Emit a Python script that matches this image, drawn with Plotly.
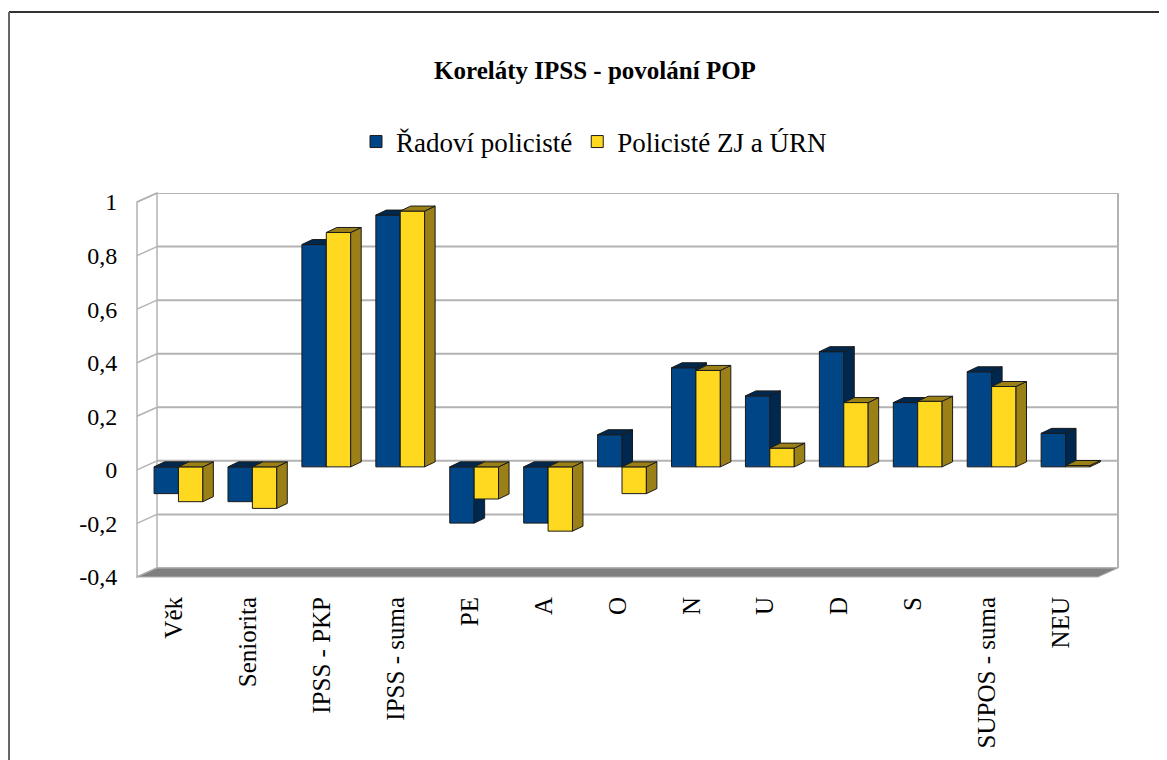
import plotly.graph_objects as go

# data
categories = ["Věk", "Seniorita", "IPSS - PKP", "IPSS - suma", "PE", "A", "O",
              "N", "U", "D", "S", "SUPOS - suma", "NEU"]
radovi = [-0.10, -0.13, 0.83, 0.94, -0.21, -0.21, 0.12, 0.37, 0.265, 0.43, 0.24, 0.355, 0.125]
zj_urn = [-0.13, -0.155, 0.875, 0.955, -0.12, -0.24, -0.10, 0.36, 0.07, 0.24, 0.245, 0.30, 0.005]
y_ticks = [-0.4, -0.2, 0, 0.2, 0.4, 0.6, 0.8, 1]
y_tick_labels = ["-0,4", "-0,2", "0", "0,2", "0,4", "0,6", "0,8", "1"]

W, H = 1167, 760
OFF = 8  # page margin around the plot div
FONT = "Liberation Serif"
BLUE, BLUE_DARK = "#004586", "#00284f"
YELLOW, YELLOW_DARK = "#ffd920", "#9a8016"
EDGE = "#1a1a1a"
GRID = "#b3b3b3"

# back wall of the pseudo-3D box, in screen pixels
WALL_L, WALL_R, WALL_T, WALL_B = 157, 1118, 193, 568
FLOOR_DX, FLOOR_DY = 20, 9       # depth of the floor / side wall
BAR_DX, BAR_DY = 15.5, 6         # bars' front plane relative to the wall
FACE_DX, FACE_DY = 10.5, 5       # depth of a bar
BAR_W = 0.33

n = len(categories)
x_unit = (WALL_R - WALL_L) / n
y_unit = (WALL_B - WALL_T) / (y_ticks[-1] - y_ticks[0])

# base (wall) axes cover the wall plus the floor / side wall in front of it
x_base = [-0.5 - FLOOR_DX / x_unit, n - 0.5]
y_base = [y_ticks[0] - FLOOR_DY / y_unit, y_ticks[-1]]


def shifted(rng, d):
    return [r + d for r in rng]


def px(x):
    return (x - OFF) / W


def py(y):
    return 1 - (y - OFF) / H


dx = FACE_DX / x_unit
dy = FACE_DY / y_unit


def faces(lefts, values):
    """Side and top faces of the bars as closed polygons."""
    sx, sy, tx, ty = [], [], [], []
    for x0, v in zip(lefts, values):
        x1 = x0 + BAR_W
        lo, hi = min(v, 0), max(v, 0)
        sx += [x1, x1, x1 + dx, x1 + dx, x1, None]
        sy += [lo, hi, hi + dy, lo + dy, lo, None]
        tx += [x0, x1, x1 + dx, x0 + dx, x0, None]
        ty += [hi, hi, hi + dy, hi + dy, hi, None]
    return sx, sy, tx, ty


def series(name, values, offset, color, dark, xa, ya):
    idx = list(range(n))
    sx, sy, tx, ty = faces([i + offset for i in idx], values)
    bar = go.Bar(
        x=idx, y=values, name=name, width=BAR_W, offset=offset,
        marker=dict(color=color, line=dict(color=EDGE, width=1)),
        xaxis=xa, yaxis=ya,
    )
    face_style = dict(fill="toself", fillcolor=dark, mode="lines",
                      line=dict(color=EDGE, width=1), showlegend=False,
                      hoverinfo="skip", xaxis=xa, yaxis=ya)
    return [bar, go.Scatter(x=sx, y=sy, **face_style), go.Scatter(x=tx, y=ty, **face_style)]


traces = [go.Scatter(x=[], y=[], showlegend=False, xaxis="x", yaxis="y")]
traces += series("Řadoví policisté", radovi, -BAR_W, BLUE, BLUE_DARK, "x2", "y2")
traces += series("Policisté ZJ a ÚRN", zj_urn, 0, YELLOW, YELLOW_DARK, "x3", "y3")
traces += [go.Scatter(x=[], y=[], showlegend=False, xaxis="x4", yaxis="y4")]

fig = go.Figure(data=traces)

shapes = [
    # outer frame
    dict(type="line", xref="paper", yref="paper", x0=px(9), x1=1.02, y0=py(12), y1=py(12),
         line=dict(color="#333333", width=2)),
    dict(type="line", xref="paper", yref="paper", x0=px(9), x1=px(9), y0=py(12), y1=-0.02,
         line=dict(color="#666666", width=2)),
    # left side wall
    dict(type="path", xref="paper", yref="paper", layer="below",
         path=f"M {px(WALL_L)} {py(WALL_T)} L {px(WALL_L - FLOOR_DX)} {py(WALL_T + FLOOR_DY)} "
              f"L {px(WALL_L - FLOOR_DX)} {py(WALL_B + FLOOR_DY)} L {px(WALL_L)} {py(WALL_B)} Z",
         fillcolor="white", line=dict(color=GRID, width=1.5)),
    # floor
    dict(type="path", xref="paper", yref="paper",
         path=f"M {px(WALL_L)} {py(WALL_B)} L {px(WALL_R)} {py(WALL_B)} "
              f"L {px(WALL_R - FLOOR_DX)} {py(WALL_B + FLOOR_DY)} "
              f"L {px(WALL_L - FLOOR_DX)} {py(WALL_B + FLOOR_DY)} Z",
         fillcolor="#808080", line=dict(color=GRID, width=1)),
    # back wall right edge
    dict(type="line", xref="paper", yref="paper", x0=px(WALL_R), x1=px(WALL_R),
         y0=py(WALL_T), y1=py(WALL_B), line=dict(color=GRID, width=2)),
]
for v in y_ticks:
    # gridline on the back wall and its continuation on the side wall
    shapes.append(dict(type="line", xref="paper", yref="y", layer="below",
                       x0=px(WALL_L), x1=px(WALL_R), y0=v, y1=v,
                       line=dict(color=GRID, width=2)))
    shapes.append(dict(type="line", xref="paper", yref="y", layer="below",
                       x0=px(WALL_L), x1=px(WALL_L - FLOOR_DX),
                       y0=v, y1=v - FLOOR_DY / y_unit,
                       line=dict(color=GRID, width=1.5)))

hidden = dict(showgrid=False, zeroline=False, showticklabels=False, ticks="",
              showline=False, automargin=False)
ghost_ticks = dict(ticks="outside", tickcolor="rgba(0,0,0,0)", showgrid=False,
                   zeroline=False, showline=False, automargin=False)

fig.update_layout(
    width=W,
    height=H,
    template="none",
    margin=dict(l=0, r=0, t=0, b=0),
    paper_bgcolor="white",
    plot_bgcolor="rgba(0,0,0,0)",
    font=dict(family=FONT, color="black", size=24),
    title=dict(text="<b>Koreláty IPSS - povolání POP</b>", x=px(595), y=py(70),
               xanchor="center", yanchor="middle", xref="paper", yref="paper",
               font=dict(family=FONT, size=25, color="black")),
    legend=dict(orientation="h", x=px(594), y=py(142), xanchor="center", yanchor="middle",
                font=dict(family=FONT, size=27), bgcolor="rgba(0,0,0,0)",
                traceorder="normal"),
    showlegend=True,
    shapes=shapes,
    xaxis=dict(domain=[px(WALL_L - FLOOR_DX), px(WALL_R)], range=x_base, **hidden),
    yaxis=dict(domain=[py(WALL_B + FLOOR_DY), py(WALL_T)], range=y_base, **hidden),
    xaxis2=dict(overlaying="x", anchor="y2", range=shifted(x_base, BAR_DX / x_unit), **hidden),
    yaxis2=dict(overlaying="y", anchor="x2", range=shifted(y_base, BAR_DY / y_unit), **hidden),
    xaxis3=dict(overlaying="x", anchor="y3", range=shifted(x_base, BAR_DX / x_unit), **hidden),
    yaxis3=dict(overlaying="y", anchor="x3", range=shifted(y_base, BAR_DY / y_unit), **hidden),
    # labels sit on the front edge of the floor / side wall
    xaxis4=dict(overlaying="x", anchor="y4", range=shifted(x_base, FLOOR_DX / x_unit),
                tickvals=list(range(n)), ticktext=categories, tickangle=-90, ticklen=9,
                tickfont=dict(family=FONT, size=25), **ghost_ticks),
    yaxis4=dict(overlaying="y", anchor="x4", range=shifted(y_base, FLOOR_DY / y_unit),
                tickvals=y_ticks, ticktext=y_tick_labels, ticklen=14,
                tickfont=dict(family=FONT, size=24), **ghost_ticks),
    hovermode=False,
)

fig.write_html("out.html")
